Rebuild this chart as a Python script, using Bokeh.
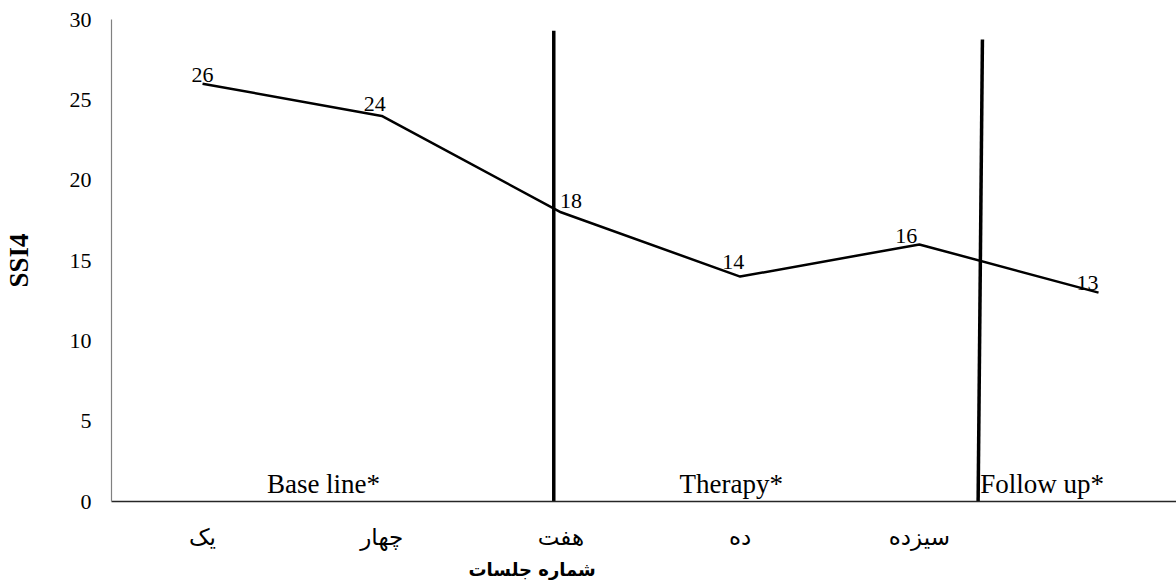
from bokeh.plotting import figure
from bokeh.models import ColumnDataSource, FixedTicker, Range1d, Title
from bokeh.embed import file_html
from bokeh.resources import INLINE
from bokeh.core.properties import value

# ---- data ----
sessions = ["یک", "چهار", "هفت", "ده", "سیزده", ""]
ssi4 = [26, 24, 18, 14, 16, 13]
phase_names = ["Base line*", "Therapy*", "Follow up*"]
phase_x = [0.675, 2.95, 4.34]
divider_x = [1.96, 4.34]
divider_top = [29.3, 28.75]
y_ticks = [0, 5, 10, 15, 20, 25, 30]
x_title = "شماره جلسات"
y_title = "SSI4"

idx = list(range(len(ssi4)))
src = ColumnDataSource(dict(
    x=idx, y=ssi4, lbl=[str(v) for v in ssi4],
    dx=[0, -7, 10, -7, -13, -11],
    dy=[-2, -5, -4, -8, -1, -3],
))

p = figure(width=1176, height=585, output_backend="svg", toolbar_location=None,
           x_range=Range1d(-0.508, 5.435), y_range=Range1d(0, 30),
           min_border_left=100, min_border_right=0, min_border_top=19,
           min_border_bottom=84)
p.outline_line_color = None
p.grid.grid_line_color = None

serif = "Liberation Serif"

# line
p.line("x", "y", source=src, line_color="black", line_width=2.5)
p.text("x", "y", text="lbl", source=src, x_offset="dx", y_offset="dy",
       text_align="center", text_baseline="bottom",
       text_font=value(serif), text_font_size="22px", text_color="black")

# dividers
p.segment(x0=[divider_x[0], divider_x[1] + 0.012], y0=[divider_top[0], divider_top[1]],
          x1=[divider_x[0], divider_x[1] - 0.012], y1=[0, 0],
          line_color="black", line_width=3.5)

# phase labels
p.text(x=phase_x[:2], y=[0.15, 0.15], text=phase_names[:2], text_align="center",
       text_baseline="bottom", text_font=value(serif), text_font_size="27px",
       text_color="black")
p.text(x=[phase_x[2]], y=[0.15], text=[phase_names[2]], text_align="left",
       text_baseline="bottom", text_font=value(serif), text_font_size="27px",
       text_color="black")

# x axis
p.xaxis.ticker = FixedTicker(ticks=idx[:5])
p.xaxis.major_label_overrides = {i: s for i, s in enumerate(sessions) if s}
p.xaxis.major_tick_line_color = None
p.xaxis.major_tick_out = 0
p.xaxis.minor_tick_line_color = None
p.xaxis.axis_line_color = "#262626"
p.xaxis.axis_line_width = 1.6
p.xaxis.major_label_standoff = 22
p.xaxis.major_label_text_font = "DejaVu Sans"
p.xaxis.major_label_text_font_size = "23px"
p.xaxis.major_label_text_color = "black"

t = Title(text=x_title, align="left", offset=357, standoff=8,
          text_font="DejaVu Sans", text_font_style="bold",
          text_font_size="18px", text_color="black")
p.add_layout(t, "below")

# y axis
p.yaxis.ticker = FixedTicker(ticks=y_ticks)
p.yaxis.major_tick_line_color = None
p.yaxis.major_tick_out = 0
p.yaxis.minor_tick_line_color = None
p.yaxis.axis_line_color = "#808080"
p.yaxis.axis_line_width = 1.2
p.yaxis.major_label_standoff = 20
p.yaxis.major_label_text_font = serif
p.yaxis.major_label_text_font_size = "22px"
p.yaxis.major_label_text_color = "black"
p.yaxis.axis_label = y_title
p.yaxis.axis_label_text_font = serif
p.yaxis.axis_label_text_font_style = "bold"
p.yaxis.axis_label_text_font_size = "27px"
p.yaxis.axis_label_text_color = "black"
p.yaxis.axis_label_standoff = 33

open("out.html", "w").write(file_html(p, INLINE))
